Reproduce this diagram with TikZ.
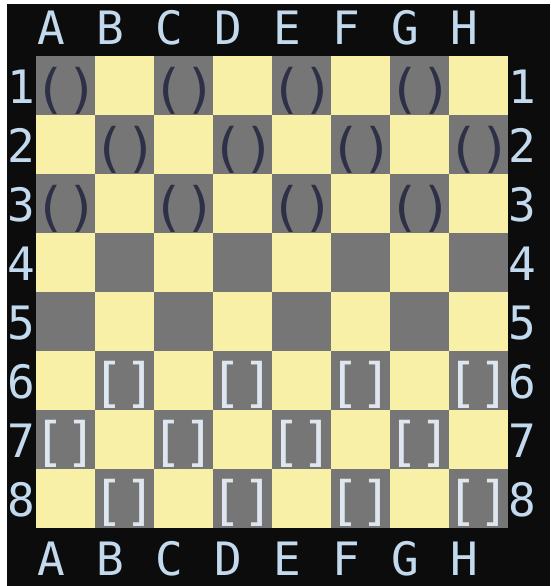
\documentclass[tikz,border=0pt]{standalone}
\usepackage{fontspec}
\setmainfont{DejaVu Sans Mono}
\definecolor{consolebg}{RGB}{12,12,12}
\definecolor{darksq}{RGB}{118,118,118}
\definecolor{lightsq}{RGB}{249,240,168}
\definecolor{labelfg}{RGB}{195,218,238}
\definecolor{darkfg}{RGB}{45,48,70}
\definecolor{lightfg}{RGB}{222,230,240}

\begin{document}
\begin{tikzpicture}[x=1pt,y=-1pt,
  sq/.style={minimum size=59pt,inner sep=0pt,outer sep=0pt},
  sq0/.style={fill=darksq},
  sq1/.style={fill=lightsq},
  lbl/.style={font=\fontsize{46}{46}\selectfont,text=labelfg,inner sep=0pt,anchor=base},
  paren/.style={font=\fontsize{53}{53}\selectfont,text=darkfg,inner ysep=0pt,inner xsep=-5pt},
  brack/.style={font=\fontsize{53}{53}\selectfont,text=lightfg,inner ysep=0pt,inner xsep=-5pt}]
  \useasboundingbox (0,0) rectangle (550,586);
  \fill[white] (0,0) rectangle (550,586);
  \fill[consolebg] (7,4) rectangle (550,586);
  % the 8x8 board
  \foreach \r in {1,...,8}
    \foreach \c in {1,...,8} {
      \pgfmathtruncatemacro\p{mod(\r+\c,2)}
      \node[sq,sq\p] (sq-\r-\c) at (6.5+59*\c,26.5+59*\r) {};
    }
  % file letters, top and bottom
  \foreach \l [count=\c] in {A,B,C,D,E,F,G,H} {
    \node[lbl] (top-\c) at (-8+59*\c,45) {\l};
    \node[lbl] (bot-\c) at (-8+59*\c,575) {\l};
  }
  % rank numbers, left and right
  \foreach \r in {1,...,8} {
    \node[lbl] (left-\r) at (21,44+59*\r) {\r};
    \node[lbl] (right-\r) at (522,44+59*\r) {\r};
  }
  % pieces: () on ranks 1-3, [] on ranks 6-8
  \foreach \r in {1,2,3}
    \foreach \c in {1,...,8} {
      \pgfmathtruncatemacro\p{mod(\r+\c,2)}
      \ifnum\p=0 \node[paren] (pc-\r-\c) at ([xshift=1pt,yshift=-5.5pt]sq-\r-\c.center) {()}; \fi
    }
  \foreach \r in {6,7,8}
    \foreach \c in {1,...,8} {
      \pgfmathtruncatemacro\p{mod(\r+\c,2)}
      \ifnum\p=0 \node[brack] (pc-\r-\c) at ([yshift=-4.5pt]sq-\r-\c.center) {[]}; \fi
    }
\end{tikzpicture}
\end{document}
